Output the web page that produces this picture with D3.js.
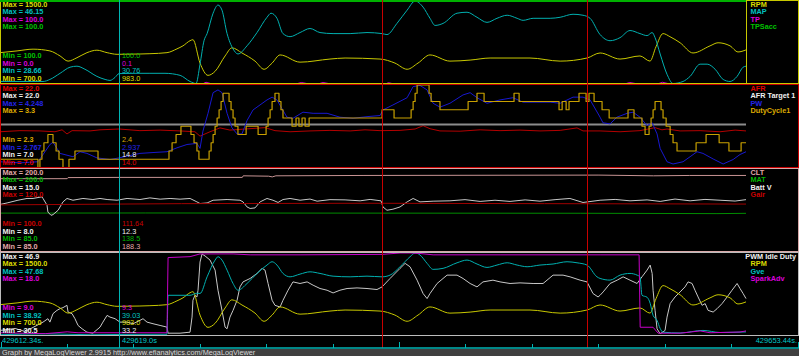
<!DOCTYPE html>
<html>
<head>
<meta charset="utf-8">
<script src="https://cdn.jsdelivr.net/npm/d3@7"></script>
<style>
  body { margin: 0; background: #000; }
  svg { display: block; }
</style>
</head>
<body>
<svg id="chart" width="799" height="356"></svg>
<script>
const width = 799, height = 356;
const plotRight = 746;

// log time window (seconds), cursor positions are offsets from logStart
const logStart = 429612.34, logEnd = 429653.44;
const timeLabels = ["429612.34s.", "429619.0s", "429653.44s."];
const cursorTimes = [6.59, 21.07, 32.37];
const footerText = "Graph by MegaLogViewer 2.9915 http://www.efianalytics.com/MegaLogViewer";

// [seconds from logStart, value]
const rpm = [[0,999],[0.94,1016],[1.82,1033],[2.75,1016],[3.31,967],[3.75,917],[4.24,950],[4.79,999],[5.34,1023],[5.90,999],[6.45,983],[7.71,986],[8.26,989],[9.20,999],[9.75,1036],[10.08,1065],[10.47,1115],[10.63,1125],[11.02,898],[11.46,779],[11.85,818],[12.40,967],[12.78,1046],[13.33,996],[14.05,917],[14.55,838],[14.99,898],[15.43,977],[16.53,907],[18.18,937],[19.01,947],[20.94,937],[21.76,898],[22.43,838],[23.03,898],[23.69,977],[24.79,917],[25.90,927],[27.00,947],[29.20,947],[30.86,917],[32.34,947],[33.06,996],[34.16,937],[35.26,967],[35.81,917],[36.14,1056],[36.53,1184],[36.91,1154],[37.47,1095],[38.18,996],[39.12,1065],[39.56,1095],[40.22,1065],[40.66,1006],[41.10,1026]];

const map = [[0,29.09],[1.10,29.09],[2.37,29.09],[2.75,29.52],[3.31,30.82],[3.86,32.12],[4.24,32.33],[4.68,31.68],[5.34,30.17],[5.79,29.52],[6.06,29.31],[6.34,29.96],[6.56,30.76],[7.44,30.82],[8.26,30.82],[9.09,30.82],[9.92,30.39],[10.47,29.09],[10.80,28.66],[11.02,32.76],[11.24,37.73],[11.41,39.24],[11.74,43.56],[12.01,45.29],[12.23,44.21],[12.51,39.24],[12.84,36.00],[13.11,34.92],[13.61,36.65],[14.16,39.46],[14.71,42.70],[14.93,43.56],[15.26,42.48],[15.59,39.24],[15.98,38.59],[16.53,39.46],[17.08,40.32],[17.63,39.46],[18.35,39.24],[19.29,39.24],[20.22,39.46],[21.05,39.24],[21.32,39.03],[21.87,41.40],[22.43,44.21],[22.87,46.15],[23.31,44.85],[23.69,42.48],[23.97,40.97],[24.41,41.40],[25.18,43.56],[25.73,43.77],[26.28,42.70],[26.83,41.62],[27.38,42.48],[27.94,43.13],[28.49,42.48],[28.82,42.05],[29.37,42.48],[30.31,42.48],[30.86,42.70],[31.57,43.34],[32.12,43.13],[32.51,42.48],[33.06,39.03],[33.61,37.73],[34.16,38.38],[34.71,39.89],[35.26,39.24],[35.65,38.81],[35.93,39.46],[36.09,38.38],[36.37,34.92],[36.75,30.60],[37.08,28.66],[37.63,29.09],[38.02,30.17],[38.57,32.76],[38.96,32.76],[39.40,31.68],[39.84,29.52],[40.22,29.09],[40.61,30.17],[40.94,32.12],[41.10,32.33]];

const tp = [[0,0],[11.2,0],[11.35,1.5],[11.6,0],[16.4,0],[16.6,1.2],[16.9,0],[17.6,0],[17.8,1.2],[18.1,0],[21.3,0],[21.4,1],[21.6,0],[34.5,0],[34.7,1.2],[35.0,0],[36.3,0],[36.5,1.5],[36.8,0],[41.1,0]];
const tpsAcc = [[0,100],[41.1,100]];

const afr = [[0,13.5],[1.10,13.7],[2.20,13.65],[3.03,13.5],[3.42,13.85],[3.69,13.1],[3.97,13.7],[4.96,13.65],[5.51,13.85],[6.56,14.0],[7.71,13.7],[8.82,13.8],[9.92,13.65],[10.74,13.5],[11.02,12.7],[11.57,13.5],[12.12,14.2],[12.67,13.8],[13.50,14.0],[14.60,14.25],[15.15,13.7],[15.98,13.5],[17.08,13.65],[18.18,13.75],[19.29,13.65],[20.11,13.85],[20.94,13.7],[22.04,13.75],[22.87,14.0],[23.31,14.6],[23.69,14.05],[24.24,13.65],[25.35,13.6],[26.45,13.85],[27.55,13.7],[28.65,13.8],[29.75,13.65],[30.86,13.75],[31.79,14.2],[32.12,13.65],[33.06,13.65],[34.16,13.5],[35.26,13.7],[36.09,14.25],[36.47,13.85],[36.75,14.0],[37.47,13.65],[38.57,13.7],[39.67,13.5],[40.50,13.8],[41.10,13.65]];
const afrTarget = [[0,14.8],[41.1,14.8]];

const pw = [[0,2.87],[1.10,2.85],[2.09,2.87],[2.48,3.05],[2.75,3.18],[2.92,3.22],[3.14,3.11],[3.31,3.02],[4.02,2.96],[4.41,3.05],[4.79,3.02],[5.34,2.94],[6.06,2.91],[6.56,2.94],[7.71,3.02],[8.65,3.04],[9.20,3.05],[9.75,3.12],[10.30,3.18],[10.85,3.20],[11.02,3.11],[11.18,3.42],[11.46,3.74],[11.74,4.11],[12.01,4.16],[12.23,4.11],[12.51,3.74],[12.78,3.48],[13.06,3.37],[13.33,3.37],[13.61,3.61],[13.94,3.80],[14.71,3.98],[14.99,4.03],[15.26,3.98],[15.81,3.67],[16.14,3.65],[16.69,3.76],[17.25,3.74],[18.02,3.74],[18.73,3.67],[19.45,3.65],[20.22,3.68],[20.94,3.70],[21.10,3.80],[21.65,3.89],[22.43,4.02],[22.76,4.22],[23.14,4.24],[23.53,4.16],[23.86,3.92],[24.24,3.85],[24.79,3.92],[25.51,4.07],[25.90,4.11],[26.28,4.02],[26.83,3.92],[27.55,3.98],[28.26,4.02],[28.82,3.94],[30.31,3.94],[30.86,3.92],[31.57,4.03],[32.12,4.03],[32.51,3.98],[33.06,3.67],[33.22,3.57],[33.61,3.55],[33.99,3.67],[34.55,3.74],[34.88,3.76],[35.26,3.67],[35.65,3.52],[35.93,3.57],[36.20,3.37],[36.37,3.11],[36.75,2.87],[37.08,2.83],[37.63,2.87],[38.02,2.96],[38.40,3.05],[38.73,3.02],[39.29,2.92],[39.84,2.83],[40.39,2.91],[40.77,3.00],[41.10,3.05]];

const dutyCycle = [[0,2.4],[2.09,2.3],[2.20,2.4],[2.31,2.5],[2.42,2.6],[2.64,2.7],[2.92,2.6],[3.09,2.5],[3.25,2.4],[3.47,2.3],[3.80,2.4],[4.13,2.5],[5.40,2.4],[9.31,2.5],[9.48,2.6],[9.70,2.7],[9.97,2.8],[10.52,2.7],[10.69,2.6],[10.85,2.5],[10.96,2.4],[11.52,2.5],[11.63,2.6],[11.74,2.7],[11.85,2.8],[11.96,2.9],[12.07,3.0],[12.18,3.1],[12.29,3.2],[12.62,3.1],[12.73,3.0],[12.84,2.9],[12.95,2.8],[13.11,2.7],[13.56,2.8],[14.22,2.7],[14.66,2.8],[14.77,2.9],[14.88,3.0],[14.99,3.1],[15.15,3.2],[15.37,3.1],[15.48,3.0],[15.59,2.9],[16.09,2.8],[16.31,2.9],[16.47,2.8],[16.64,2.9],[16.81,2.8],[17.03,2.9],[21.05,3.0],[21.71,2.9],[22.65,3.0],[22.76,3.1],[22.87,3.2],[22.98,3.3],[23.64,3.2],[23.75,3.1],[24.24,3.0],[25.79,3.1],[26.28,3.2],[26.67,3.1],[28.32,3.2],[28.60,3.1],[30.80,3.0],[30.97,3.1],[31.19,3.0],[31.35,3.1],[31.90,3.2],[32.29,3.1],[32.45,3.2],[32.73,3.1],[33.17,3.0],[33.56,2.9],[34.60,3.0],[34.93,2.9],[35.37,2.8],[35.54,2.7],[35.76,2.8],[35.87,2.9],[35.98,3.0],[36.09,3.1],[36.42,3.0],[36.53,2.9],[36.70,2.8],[36.92,2.7],[37.08,2.6],[37.30,2.5],[38.35,2.6],[38.90,2.7],[39.62,2.6],[40.16,2.5],[40.83,2.6],[41.10,2.6]];

const clt = [[0,186.5],[3.70,186.5],[3.75,188.0],[6.56,188.3],[13.35,188.3],[13.40,190.5],[14.80,190.0],[15.00,189.0],[15.20,190.5],[20.0,191.0],[33.0,191.5],[36.0,190.5],[38.0,191.0],[41.1,191.0]];
const mat = [[0,138.5],[8,138.7],[20,138.5],[32,138.3],[39.5,137.8],[41.1,138.2]];
const battV = [[0,11.99],[0.39,12.12],[0.99,12.35],[1.49,12.50],[1.82,12.50],[2.31,12.64],[2.37,12.50],[2.59,11.93],[2.64,11.35],[2.81,11.07],[2.92,11.13],[3.20,11.50],[3.47,12.21],[3.69,12.50],[4.02,12.35],[4.57,12.50],[5.12,12.41],[5.51,12.50],[5.90,12.41],[6.45,12.35],[7.00,12.50],[7.71,12.41],[8.26,12.55],[8.82,12.44],[9.37,12.50],[9.92,12.44],[10.47,12.50],[10.85,12.21],[11.02,12.07],[11.41,12.12],[11.74,12.35],[12.51,12.41],[13.22,12.35],[13.39,12.21],[13.61,11.78],[13.78,11.65],[14.05,11.70],[14.33,12.21],[14.71,12.50],[15.04,12.35],[15.32,12.16],[15.59,12.41],[15.98,12.50],[16.53,12.35],[17.08,12.45],[17.47,12.27],[18.18,12.40],[19.01,12.38],[19.84,12.30],[20.39,12.42],[20.99,12.30],[21.10,11.78],[21.32,11.50],[21.65,11.59],[22.04,11.78],[22.43,12.21],[22.76,12.50],[23.14,12.21],[23.86,12.27],[24.79,12.30],[25.62,12.40],[26.45,12.25],[27.27,12.35],[28.10,12.25],[28.93,12.38],[29.75,12.27],[30.58,12.40],[31.40,12.50],[32.12,12.16],[33.06,12.35],[33.89,12.42],[34.71,12.30],[35.65,12.38],[36.37,12.25],[37.19,12.45],[38.02,12.30],[38.84,12.42],[39.67,12.35],[40.50,12.28],[41.10,12.40]];
const gair = [[0,111.3],[10,111.6],[20,111.7],[30,111.6],[41.1,111.5]];

const pwmIdle = [[0,31.5],[0.83,31.9],[1.38,31.3],[1.82,32.1],[2.37,33.16],[2.64,33.84],[2.75,33.16],[2.92,34.84],[3.14,35.5],[3.31,35.84],[3.47,36.04],[3.69,36.5],[3.75,35.16],[3.97,34.84],[4.13,33.84],[4.30,32.5],[4.52,31.84],[4.79,31.16],[5.12,30.96],[5.51,32.16],[5.67,33.16],[5.90,34.5],[6.06,34.16],[6.34,33.84],[6.61,33.16],[7.00,33.16],[7.33,32.84],[7.71,33.5],[7.88,33.84],[8.10,33.16],[8.43,32.84],[8.82,32.5],[9.20,32.16],[9.26,30.96],[9.92,30.96],[10.47,31.16],[10.58,34.16],[10.63,37.5],[10.74,38.5],[10.85,38.16],[10.91,39.5],[11.02,45.1],[11.13,46.7],[11.30,46.3],[11.57,45.5],[11.85,43.5],[12.01,39.5],[12.23,35.5],[12.40,32.16],[12.51,31.84],[12.67,34.16],[12.84,35.5],[13.06,37.5],[13.22,40.16],[13.39,41.16],[13.78,41.84],[14.16,42.84],[14.44,43.84],[14.60,43.5],[14.77,40.84],[14.99,37.5],[15.15,36.5],[15.43,36.16],[15.59,37.5],[15.87,39.5],[16.14,41.16],[16.53,40.84],[16.92,41.16],[17.25,40.5],[17.63,39.84],[18.02,39.5],[18.35,38.96],[18.73,39.5],[19.12,39.84],[19.67,39.96],[20.22,39.84],[20.77,39.64],[21.05,40.16],[21.49,41.84],[22.04,43.84],[22.32,44.84],[22.59,44.16],[22.98,41.5],[23.31,38.84],[23.53,37.84],[23.69,38.84],[24.08,40.84],[24.63,42.5],[25.18,42.5],[25.51,41.84],[25.90,40.84],[26.28,40.16],[26.61,41.16],[27.16,41.5],[27.55,41.16],[28.10,40.84],[28.65,40.96],[29.37,40.84],[29.92,40.84],[30.47,42.5],[31.02,42.5],[31.41,42.16],[31.96,41.5],[32.34,41.16],[32.67,38.84],[32.95,38.16],[33.06,38.5],[33.23,39.16],[33.61,40.84],[34.00,41.5],[34.33,42.16],[34.71,41.5],[35.10,40.84],[35.37,42.16],[35.65,43.5],[35.82,44.5],[35.93,42.84],[35.98,39.5],[36.09,35.5],[36.20,31.84],[36.37,30.84],[36.64,31.5],[36.75,34.16],[36.92,36.84],[37.19,38.16],[37.47,39.16],[37.74,40.16],[37.91,41.16],[38.13,40.84],[38.29,39.5],[38.46,38.16],[38.68,36.5],[38.85,36.84],[39.01,35.5],[39.29,35.16],[39.51,35.84],[39.78,36.84],[40.06,38.16],[40.33,39.5],[40.61,40.84],[40.77,39.84],[40.94,38.84],[41.10,37.84]];

const gve = [[0,39.0],[2.5,39.1],[5.0,39.0],[6.56,39.03],[9.20,39.05],[9.26,43.19],[10.47,43.19],[10.85,43.41],[11.02,43.38],[11.41,45.15],[11.85,46.93],[12.01,47.28],[12.23,46.93],[12.51,45.86],[12.84,44.44],[13.11,43.73],[13.61,44.44],[14.16,45.51],[14.71,46.40],[14.99,46.75],[15.26,46.40],[15.59,45.51],[15.98,45.15],[16.53,45.44],[17.08,45.68],[17.63,45.51],[18.35,45.22],[19.29,45.15],[20.22,45.22],[21.05,45.15],[21.49,45.33],[22.04,46.22],[22.59,47.28],[22.87,47.68],[23.14,47.47],[23.53,46.58],[23.86,45.94],[24.41,46.05],[25.18,46.64],[25.73,46.93],[26.28,46.51],[26.83,46.15],[27.38,46.40],[27.94,46.64],[28.49,46.40],[29.04,46.22],[29.75,46.40],[30.47,46.51],[31.24,46.75],[31.79,46.64],[32.34,46.40],[32.89,45.15],[33.06,44.98],[33.61,44.80],[34.16,45.33],[34.71,45.51],[35.10,45.33],[35.26,45.15],[35.37,43.19],[35.65,42.98],[35.82,42.34],[35.98,41.06],[36.20,40.52],[36.37,39.67],[36.53,39.27],[37.47,39.19],[38.73,39.46],[39.67,39.24],[41.10,39.30]];

const sparkAdv = [[0,9.3],[2.5,9.2],[3.7,9.4],[4.3,9.3],[6.56,9.3],[9.20,9.3],[9.26,17.5],[10.47,17.6],[11.02,17.9],[12.84,17.9],[13.78,17.8],[16.53,17.8],[21.05,17.85],[22.04,18.0],[22.59,18.0],[23.14,17.95],[23.86,17.8],[27.55,17.8],[33.06,17.8],[35.21,17.8],[35.27,9.9],[35.98,9.9],[36.26,9.25],[37.47,9.25],[38.57,9.5],[39.12,9.3],[40.77,9.38],[41.10,9.5]];

// panel legends: names, max / min / cursor readouts
const p1Names = ["RPM", "MAP", "TP", "TPSacc"];
const p1Max = ["1500.0", "46.15", "100.0", "100.0"];
const p1Min = ["700.0", "28.66", "0.0", "100.0"];
const p1Cur = ["983.0", "30.76", "0.1", "100.0"];

const p2Names = ["AFR", "AFR Target 1", "PW", "DutyCycle1"];
const p2Max = ["22.0", "22.0", "4.248", "3.3"];
const p2Min = ["7.0", "7.0", "2.767", "2.3"];
const p2Cur = ["14.0", "14.8", "2.937", "2.4"];

const p3Names = ["CLT", "MAT", "Batt V", "Gair"];
const p3Max = ["200.0", "200.0", "15.0", "120.0"];
const p3Min = ["85.0", "85.0", "8.0", "100.0"];
const p3Cur = ["188.3", "138.5", "12.3", "111.64"];

const p4Names = ["PWM Idle Duty", "RPM", "Gve", "SparkAdv"];
const p4Max = ["46.9", "1500.0", "47.68", "18.0"];
const p4Min = ["30.5", "700.0", "38.92", "9.0"];
const p4Cur = ["33.2", "983.0", "39.03", "9.3"];

// styles
const panelTops = [0, 84, 168, 252];
const panelBottoms = [83, 167, 251, 335];
const borderColors = ["#c8c800", "#c80000", "#d8a8a8", "#bcbcbc"];
const font = "'Liberation Sans', Arial, sans-serif";

const panels = [
  { names: p1Names, max: p1Max, min: p1Min, cur: p1Cur, data: [rpm, map, tp, tpsAcc],
    text: ["#dcdc00", "#00c0c0", "#dc00dc", "#00c000"],
    stroke: ["#c8c800", "#00b0b0", "#c800c8", "#00b000"],
    widths: [1, 1, 1, 2], curves: ["smooth", "smooth", "linear", "linear"] },
  { names: p2Names, max: p2Max, min: p2Min, cur: p2Cur, data: [afr, afrTarget, pw, dutyCycle],
    text: ["#e00000", "#f0f0f0", "#2424e8", "#dcaa00"],
    stroke: ["#b40000", "#8c8c8c", "#1818d0", "#c8a000"],
    widths: [1, 2, 1, 1.2], curves: ["linear", "linear", "linear", "step"] },
  { names: p3Names, max: p3Max, min: p3Min, cur: p3Cur, data: [clt, mat, battV, gair],
    text: ["#e0a8a8", "#00b400", "#f0f0f0", "#c80000"],
    stroke: ["#c89494", "#008c00", "#c8c8c8", "#a00000"],
    widths: [1, 1, 1, 1], curves: ["linear", "linear", "linear", "linear"] },
  { names: p4Names, max: p4Max, min: p4Min, cur: p4Cur, data: [pwmIdle, rpm, gve, sparkAdv],
    text: ["#f0f0f0", "#dcdc00", "#00c0c0", "#dc00dc"],
    stroke: ["#c8c8c8", "#c8c800", "#00b0b0", "#c800c8"],
    widths: [1, 1, 1, 1], curves: ["linear", "smooth", "smooth", "linear"] }
];

const curveFor = (c) => c === "smooth" ? d3.curveMonotoneX : (c === "step" ? d3.curveStepAfter : d3.curveLinear);

const svg = d3.select("#chart");
svg.append("rect").attr("width", width).attr("height", height).attr("fill", "#000");

const x = d3.scaleLinear().domain([0, logEnd - logStart]).range([0, plotRight]);
const cursorX = cursorTimes.map(t => Math.floor(x(t)) + 0.5);

const plots = svg.append("g");
const frames = svg.append("g");
const labels = svg.append("g").style("font-family", font);

panels.forEach((p, i) => {
  const top = panelTops[i], bot = panelBottoms[i];
  const g = plots.append("g");

  p.data.forEach((d, j) => {
    const lo = +p.min[j], hi = +p.max[j];
    // a constant channel (min == max) sits on the top edge
    const y = d3.scaleLinear()
      .domain(lo === hi ? [hi - 1, hi] : [lo, hi])
      .range([bot + 0.5, top + 1]);
    const line = d3.line()
      .x(e => x(e[0]))
      .y(e => y(e[1]))
      .curve(curveFor(p.curves[j]));
    g.append("path")
      .datum(d)
      .attr("d", line)
      .attr("fill", "none")
      .attr("stroke", p.stroke[j])
      .attr("stroke-width", p.widths[j])
      .attr("stroke-linejoin", "round");
  });

  // frame drawn over the traces, like the viewer does
  frames.append("rect")
    .attr("x", 0.5).attr("y", top + 0.5)
    .attr("width", width - 1).attr("height", bot - top)
    .attr("fill", "none").attr("stroke", borderColors[i]);
  if (i === 0) {
    frames.append("line")
      .attr("x1", plotRight + 0.5).attr("x2", plotRight + 0.5)
      .attr("y1", top).attr("y2", bot + 0.5)
      .attr("stroke", borderColors[i]);
  }

  // legends
  p.names.forEach((name, j) => {
    const yMax = top + 6.5 + 7.5 * j;
    const yMin = bot - 2.5 - 7.5 * j;
    labels.append("text")
      .attr("x", 2.5).attr("y", yMax)
      .attr("fill", p.text[j]).attr("font-size", "7.3px").attr("font-weight", "bold")
      .text("Max = " + p.max[j]);
    labels.append("text")
      .attr("x", 2.5).attr("y", yMin)
      .attr("fill", p.text[j]).attr("font-size", "7.3px").attr("font-weight", "bold")
      .text("Min = " + p.min[j]);
    labels.append("text")
      .attr("x", cursorX[0] + 2.5).attr("y", yMin)
      .attr("fill", p.text[j]).attr("font-size", "7.3px")
      .text(p.cur[j]);
    const t = labels.append("text")
      .attr("x", 750.5).attr("y", yMax)
      .attr("fill", p.text[j]).attr("font-size", "7.3px").attr("font-weight", "bold")
      .text(name);
    const len = t.node().getComputedTextLength();
    if (750.5 + len > width - 3) t.attr("x", width - 3 - len);
  });
});

// TPSacc sits on the very top edge, above the first frame
frames.append("line")
  .attr("x1", 0).attr("x2", x(tpsAcc[tpsAcc.length - 1][0]))
  .attr("y1", 1).attr("y2", 1)
  .attr("stroke", panels[0].stroke[3]).attr("stroke-width", 2);

// cursor lines
const cursorColors = ["#00b4b4", "#c80000", "#c80000"];
cursorX.forEach((cx, k) => {
  svg.append("line")
    .attr("x1", cx).attr("x2", cx)
    .attr("y1", 0).attr("y2", 348)
    .attr("stroke", cursorColors[k]);
});

// time row
const axisY = 348;
svg.append("line")
  .attr("x1", 0).attr("x2", width)
  .attr("y1", axisY).attr("y2", axisY)
  .attr("stroke", "#00b4b4").attr("stroke-width", 1.5);

const tickScale = d3.scaleLinear().domain([0, 12]).range([0.5, width - 1.5]);
svg.append("g").selectAll("line")
  .data(d3.range(13))
  .join("line")
  .attr("x1", d => Math.round(tickScale(d)) + 0.5)
  .attr("x2", d => Math.round(tickScale(d)) + 0.5)
  .attr("y1", d => d % 6 === 0 ? axisY - 6 : axisY - 4)
  .attr("y2", axisY)
  .attr("stroke", "#00b4b4");

const timeX = [2, cursorX[0] + 2.5, width - 2];
const timeAnchor = ["start", "start", "end"];
timeLabels.forEach((s, k) => {
  svg.append("text")
    .attr("x", timeX[k]).attr("y", 343.3)
    .attr("text-anchor", timeAnchor[k])
    .attr("fill", "#00c8c8")
    .style("font-family", font)
    .attr("font-size", "7.5px")
    .text(s);
});

// footer
svg.append("rect")
  .attr("x", 0).attr("y", 349)
  .attr("width", width).attr("height", height - 349)
  .attr("fill", "#404040");
svg.append("text")
  .attr("x", 2).attr("y", 355)
  .attr("fill", "#d8d8d8")
  .style("font-family", font)
  .attr("font-size", "7.3px")
  .text(footerText);
</script>
</body>
</html>
